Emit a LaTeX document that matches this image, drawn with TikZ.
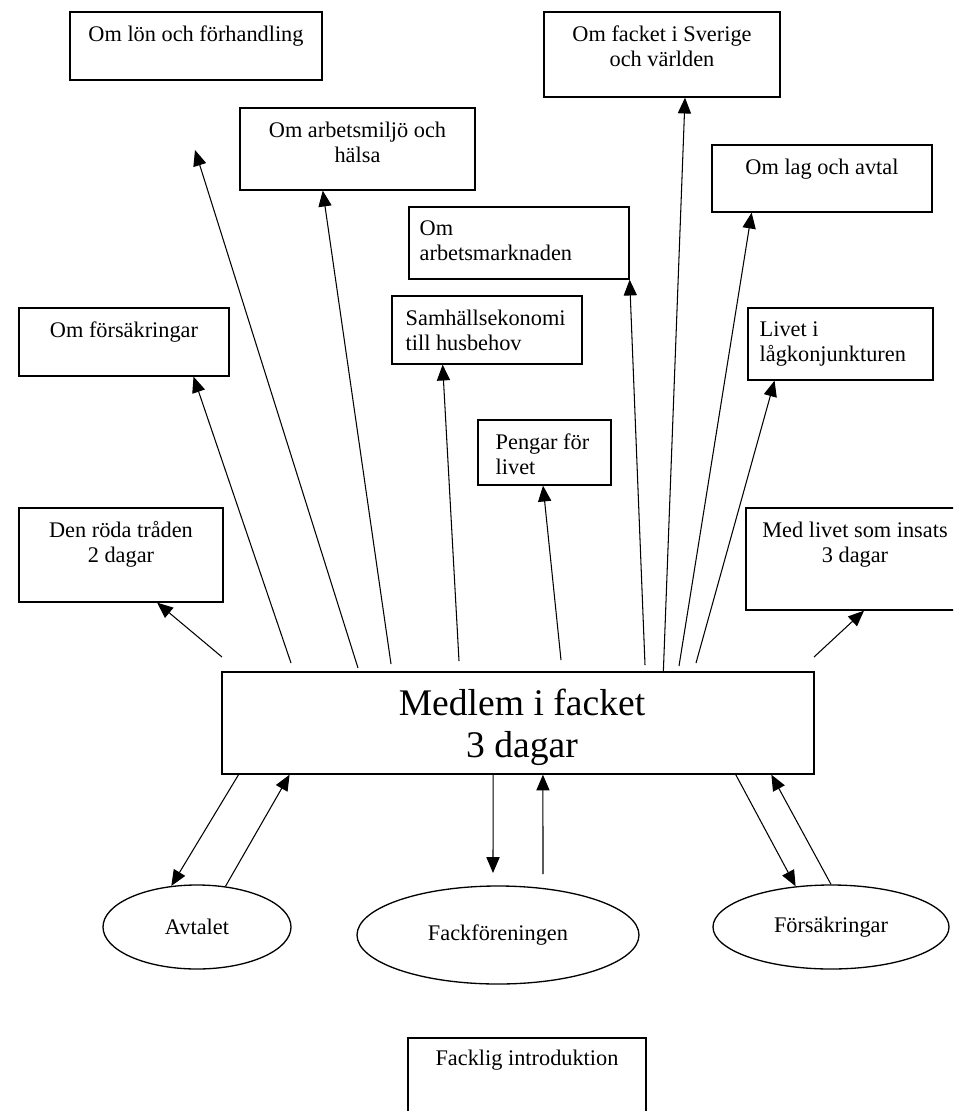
\documentclass[tikz,border=0pt]{standalone}
\usepackage{fontspec}
\setmainfont{Liberation Serif}
\usetikzlibrary{arrows.meta,calc,fit,shapes.geometric}

\begin{document}
\begin{tikzpicture}[x=0.02cm, y=-0.02cm,
  font=\fontsize{12.7}{14.2}\selectfont,
  box/.style={draw, line width=0.75pt, inner sep=0pt},
  oval/.style={draw, ellipse, line width=0.75pt, inner sep=0pt},
  lbl/.style={inner sep=0pt, align=center},
  lbll/.style={inner sep=0pt, align=left},
  arr/.style={line width=0.6pt, -{Triangle[length=9pt,width=7.5pt]}}]
% Page frame
\useasboundingbox (0,0) rectangle (953,1111);
\clip (0,0) rectangle (953,1111);
% Module boxes
\node[box, fit={(70,12) (322,80)}] (lon) {};
\node[lbl, anchor=north] (lonT) at ($(lon.north)+(0,14)$) {Om lön och förhandling};
\node[box, fit={(240,108) (475,190)}] (miljo) {};
\node[lbl, anchor=north] (miljoT) at ($(miljo.north)+(0,14)$) {Om arbetsmiljö och\\hälsa};
\node[box, fit={(544,12) (780,97)}] (sverige) {};
\node[lbl, anchor=north] (sverigeT) at ($(sverige.north)+(0,14)$) {Om facket i Sverige\\och världen};
\node[box, fit={(712,145) (932,212)}] (lag) {};
\node[lbl, anchor=north] (lagT) at ($(lag.north)+(0,14)$) {Om lag och avtal};
\node[box, fit={(409,207) (629,279)}] (marknad) {};
\node[lbll, anchor=north west] (marknadT) at ($(marknad.north west)+(11,14)$) {Om\\arbetsmarknaden};
\node[box, fit={(19,308) (229,376)}] (forsak) {};
\node[lbl, anchor=north] (forsakT) at ($(forsak.north)+(0,14)$) {Om försäkringar};
\node[box, fit={(392,296) (582,364)}] (samh) {};
\node[lbll, anchor=north west] (samhT) at ($(samh.north west)+(14,14)$) {Samhällsekonomi\\till husbehov};
\node[box, fit={(748,308) (933,380)}] (konj) {};
\node[lbll, anchor=north west] (konjT) at ($(konj.north west)+(12,14)$) {Livet i\\lågkonjunkturen};
\node[box, fit={(478,420) (611,485)}] (pengar) {};
\node[lbll, anchor=north west] (pengarT) at ($(pengar.north west)+(18,14)$) {Pengar för\\livet};
\node[box, fit={(19,508) (223,602)}] (roda) {};
\node[lbl, anchor=north] (rodaT) at ($(roda.north)+(0,14)$) {Den röda tråden\\2 dagar};
\node[box, fit={(746,508) (964,610)}] (insats) {};
\node[lbl, anchor=north] (insatsT) at ($(insats.north)+(0,14)$) {Med livet som insats\\3 dagar};
\node[box, fit={(408,1038) (646,1140)}] (intro) {};
\node[lbl, anchor=north] (introT) at ($(intro.north)+(0,12)$) {Facklig introduktion};
% Centre box
\node[box, fit={(222,672) (814,774)}] (medlem) {};
\node[lbl, font=\fontsize{21.4}{23.8}\selectfont] (medlemT) at ($(medlem.center)+(4,4)$) {Medlem i facket\\3 dagar};
% Ovals below
\node[oval, minimum width=188*0.02cm, minimum height=84*0.02cm] (avtalet) at (197,927) {Avtalet};
\node[oval, minimum width=282*0.02cm, minimum height=98*0.02cm] (fackf) at (498,935) {Fackföreningen};
\node[oval, minimum width=236*0.02cm, minimum height=84*0.02cm] (forsakr) at (831,927) {Försäkringar};
% Free line ends
\coordinate (u1) at (222,657);
\coordinate (u2) at (291,663);
\coordinate (u3) at (358,668);
\coordinate (u3e) at (195,150);
\coordinate (u4) at (391,664);
\coordinate (u5) at (459,661);
\coordinate (u6) at (561,660);
\coordinate (u7) at (645,665);
\coordinate (u9) at (679,666);
\coordinate (u10) at (696,663);
\coordinate (u11) at (814,657);
\coordinate (d3e) at (493,873);
\coordinate (d4) at (543,874);
% Arrows up to the modules
\draw[arr] (u1) -- ($(roda.south west)!0.676!(roda.south east)$);
\draw[arr] (u2) -- ($(forsak.south west)!0.829!(forsak.south east)$);
\draw[arr] (u3) -- (u3e);
\draw[arr] (u4) -- ($(miljo.south west)!0.353!(miljo.south east)$);
\draw[arr] (u5) -- ($(samh.south west)!0.268!(samh.south east)$);
\draw[arr] (u6) -- ($(pengar.south west)!0.489!(pengar.south east)$);
\draw[arr] (u7) -- (marknad.south east);
\draw[arr] ($(medlem.north west)!0.745!(medlem.north east)$) -- ($(sverige.south west)!0.597!(sverige.south east)$);
\draw[arr] (u9) -- ($(lag.south west)!0.182!(lag.south east)$);
\draw[arr] (u10) -- ($(konj.south west)!0.146!(konj.south east)$);
\draw[arr] (u11) -- ($(insats.south west)!0.541!(insats.south east)$);
% Arrows to and from the ovals
\draw[arr] ($(medlem.south west)!0.029!(medlem.south east)$) -- (avtalet.122);
\draw[arr] (avtalet.55) -- ($(medlem.south west)!0.115!(medlem.south east)$);
\draw[arr] ($(medlem.south west)!0.458!(medlem.south east)$) -- (d3e);
\draw[arr] (d4) -- ($(medlem.south west)!0.542!(medlem.south east)$);
\draw[arr] ($(medlem.south west)!0.867!(medlem.south east)$) -- (forsakr.131);
\draw[arr] (forsakr.north) -- ($(medlem.south west)!0.927!(medlem.south east)$);
\end{tikzpicture}
\end{document}
